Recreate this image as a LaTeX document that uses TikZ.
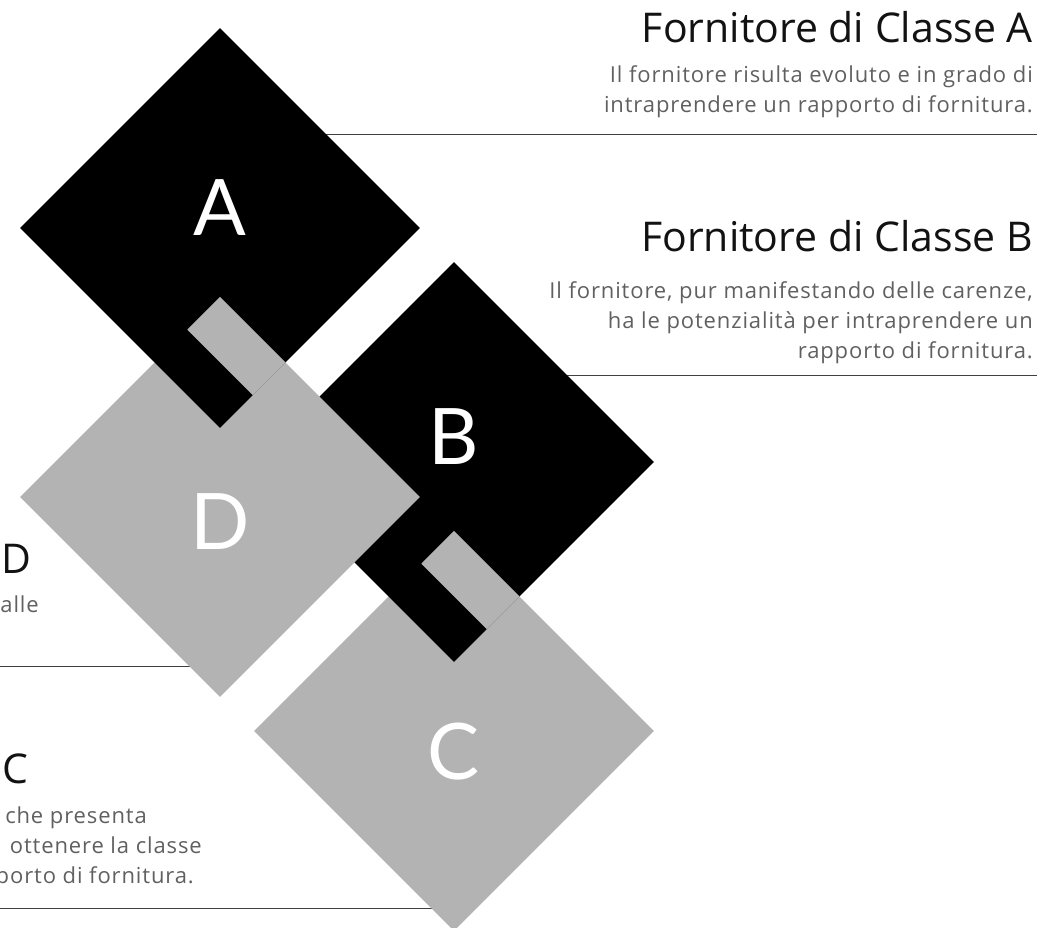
\documentclass[tikz,border=0pt]{standalone}
\usepackage{fontspec}
\setmainfont{Lato}
\newfontfamily\headfont{Open Sans}
\newfontfamily\bodyfont{Open Sans}[LetterSpace=4]
\usetikzlibrary{calc,positioning}
\usetikzlibrary{shapes.geometric}
\usepackage{xcolor}
\definecolor{tabgrey}{HTML}{B3B3B3}
\definecolor{bodygrey}{HTML}{606060}

\begin{document}
\begin{tikzpicture}[x=1pt,y=-1pt,
	dark/.style = {fill=black, diamond, minimum width=400pt, minimum height=400pt, inner sep=0pt},
	light/.style = {dark, fill=tabgrey},
	tab/.style = {fill=tabgrey},
	letter/.style = {text=white, font=\fontsize{78}{78}\selectfont, anchor=base, inner sep=0pt},
	title/.style = {text=black!93, font=\headfont\fontsize{41}{41}\selectfont, anchor=base east, inner sep=0pt},
	body/.style = {text=bodygrey, font=\bodyfont\fontsize{22}{30}\selectfont, align=right, anchor=north east, inner sep=0pt},
	rule/.style = {draw=black!75, line width=1pt}]
	\useasboundingbox (0,0) rectangle (1042,928);
	% rules under the squares
	\coordinate (ra1) at (300,135); \coordinate (ra2) at (1037,135);
	\coordinate (rb1) at (540,375); \coordinate (rb2) at (1037,375);
	\coordinate (rd1) at (0,666); \coordinate (rd2) at (210,666);
	\coordinate (rc1) at (0,908); \coordinate (rc2) at (450,908);
	\draw[rule] (ra1) -- (ra2);
	\draw[rule] (rb1) -- (rb2);
	\draw[rule] (rd1) -- (rd2);
	\draw[rule] (rc1) -- (rc2);
	% squares
	\node[light] (C) at (454,731) {};
	\node[dark] (B) at (454,462) {};
	\node[light] (D) at (220,497) {};
	\node[dark] (A) at (220,228) {};
	% grey tabs
	\coordinate (ad) at ($(A.south)!.5!(D.north)$);
	\coordinate (bc) at ($(B.south)!.5!(C.north)$);
	\fill[tab] (D.north) -- ($(ad)+(-32.75,-32.75)$) -- ($(ad)+(32.75,32.75)$) -- ($(ad)+(65.5,0)$) -- cycle;
	\fill[tab] (C.north) -- ($(bc)+(-32.75,-32.75)$) -- ($(bc)+(32.75,32.75)$) -- ($(bc)+(65.5,0)$) -- cycle;
	% letters
	\node[letter] (la) at ($(A.center)+(0,8)$) {A};
	\node[letter] (lb) at ($(B.center)+(0,2)$) {B};
	\node[letter] (ld) at ($(D.center)+(0,52)$) {D};
	\node[letter] (lc) at ($(C.center)+(0,48)$) {C};
	% texts
	\node[title] (ta) at (1033,43) {Fornitore di Classe A};
	\node[body] (xa) at (1033,65.5) {Il fornitore risulta evoluto e in grado di\\intraprendere un rapporto di fornitura.};
	\node[title] (tb) at (1033,252) {Fornitore di Classe B};
	\node[body] (xb) at (1033,281.5) {Il fornitore, pur manifestando delle carenze,\\ha le potenzialità per intraprendere un\\rapporto di fornitura.};
	\node[title] (td) at (32,573) {D};
	\node[body, anchor=base east] (xd) at (39,612) {alle};
	\node[title] (tc) at (29,783) {C};
	\node[body, anchor=base east] (xc1) at (147,823) {che presenta};
	\node[body, anchor=base east] (xc2) at (202,853) {ottenere la classe};
	\node[body, anchor=base east] (xc3) at (194,883) {porto di fornitura.};
\end{tikzpicture}
\end{document}
